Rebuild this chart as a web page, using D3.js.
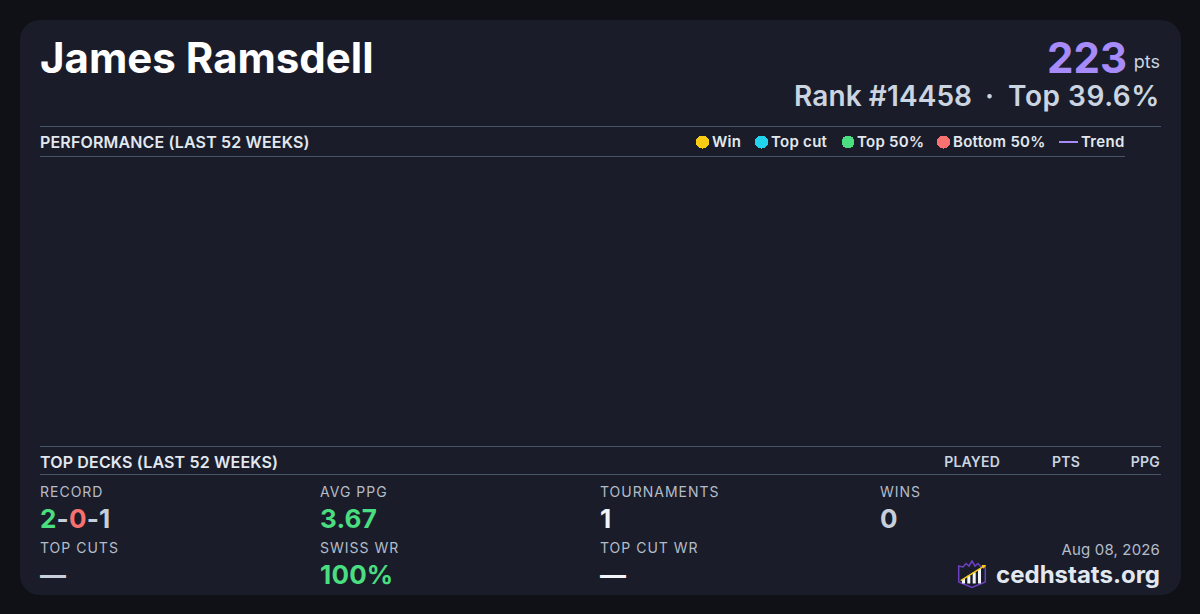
<!DOCTYPE html>
<html><head><meta charset="utf-8">
<script src="https://cdnjs.cloudflare.com/ajax/libs/d3/7.9.0/d3.min.js"></script>
<style>html,body{margin:0;padding:0;background:#0f1117}svg{display:block}text{font-family:Inter,sans-serif}</style>
</head><body><svg id="c" width="1200" height="614"></svg>
<script>
const playerName = "James Ramsdell";
const pointsValue = "223";
const rankText = "Rank #14458";
const topText = "Top 39.6%";
const legendLabels = ["Win","Top cut","Top 50%","Bottom 50%"];
const legendColors = ["#facc15","#22d3ee","#4ade80","#f87171"];
const legendDotX = [702.5,761.5,848,943.5];
const legendTextX = [712,771,857,953];
const legendTrendX = [1059,1078];
const deckColumns = ["PLAYED","PTS","PPG"];
const deckColumnRight = [1000,1080,1160];
const stats = [
 {label:"RECORD",x:40,row:0,parts:[["2","#4ade80"],["-","#c8cfdc"],["0","#f87171"],["-","#c8cfdc"],["1","#c8cfdc"]]},
 {label:"AVG PPG",x:320,row:0,parts:[["3.67","#4ade80"]]},
 {label:"TOURNAMENTS",x:600,row:0,parts:[["1","#f1f5f9"]]},
 {label:"WINS",x:880,row:0,parts:[["0","#c8cfdc"]]},
 {label:"TOP CUTS",x:40,row:1,parts:[["—","#c8cfdc"]]},
 {label:"SWISS WR",x:320,row:1,parts:[["100%","#4ade80"]]},
 {label:"TOP CUT WR",x:600,row:1,parts:[["—","#f1f5f9"]]}
];
const svg = d3.select("#c");
svg.append("rect").attr("width",1200).attr("height",614).attr("fill","#0f1117");
svg.append("rect").attr("x",20).attr("y",20).attr("width",1161).attr("height",575).attr("rx",20).attr("fill","#1a1d29");
function T(x,y,s,size,w,fill,anchor,ls){return svg.append("text").attr("x",x).attr("y",y).text(s).attr("font-size",size).attr("font-weight",w).attr("fill",fill).attr("text-anchor",anchor||"start").style("letter-spacing",(ls||0)+"px").style("white-space","pre");}
function L(x1,x2,y,c,w){svg.append("line").attr("x1",x1).attr("x2",x2).attr("y1",y).attr("y2",y).attr("stroke",c||"#475569").attr("stroke-width",w||1);}
T(40,73,playerName,42,700,"#ffffff");
T(1127,73,pointsValue,42,700,"#a78bfa","end");
T(1160,68,"pts",18,400,"#cbd5e1","end");
T(794,106,rankText,28,600,"#cbd5e1","start",0.1);
T(989.5,106,"·",28,600,"#cbd5e1","middle");
T(1160,106,topText,28,600,"#cbd5e1","end",0.55);
L(40,1161,126.5);L(40,1125,156.5);L(40,1161,446.5);L(40,1161,474.5);
T(40,148,"PERFORMANCE (LAST 52 WEEKS)",16,600,"#e2e8f0","start",0.15);
T(40,468,"TOP DECKS (LAST 52 WEEKS)",16,600,"#e2e8f0","start",0.16);
legendLabels.forEach((d,i)=>{
 svg.append("circle").attr("cx",legendDotX[i]).attr("cy",142).attr("r",6.5).attr("fill",legendColors[i]).attr("shape-rendering","crispEdges");
 T(legendTextX[i],147,d,15,600,"#e2e8f0","start",0.28);
});
L(legendTrendX[0],legendTrendX[1],142,"#a78bfa",2);
T(1081,147,"Trend",15,600,"#e2e8f0","start",0.3);
deckColumns.forEach((d,i)=>T(deckColumnRight[i],467,d,14,600,"#cbd5e1","end",0.2));
stats.forEach(s=>{
 const yl = s.row?553:497, yv = s.row?584:528;
 T(s.x,yl,s.label,14,400,"#b4bcc9","start",1);
 const t = T(s.x,yv,"",26,700,"#fff","start",0.2);
 s.parts.forEach(p=>t.append("tspan").text(p[0]).attr("fill",p[1]));
});
T(1160,555,"Aug 08, 2026",15,400,"#b4bcc9","end",0.15);
T(1160,583,"cedhstats.org",24,700,"#e2e8f0","end");
// logo
const g = svg.append("g").attr("transform","translate(958,560)");
g.append("path").attr("d","M0.7 6 L5 7 L8 3.5 L11 6 L14 1 L17 6 L20 3.5 L23 7 L27.3 6 V22 L14 27.5 L0.7 22 Z").attr("fill","#1a1d29").attr("stroke","#6d3fc4").attr("stroke-width",1.5);
[[4,19,3],[9.3,15.7,3],[14.7,12.3,3],[20,9,3]].forEach(b=>g.append("rect").attr("x",b[0]).attr("y",b[1]).attr("width",b[2]).attr("height",23.5-b[1]).attr("fill","#f1f5f9"));
g.append("line").attr("x1",2.7).attr("y1",20.7).attr("x2",26).attr("y2",6.2).attr("stroke","#facc15").attr("stroke-width",1.4);
g.append("path").attr("d","M28 5 L23.5 5 L25.8 8.8 Z").attr("fill","#facc15");
</script></body></html>
